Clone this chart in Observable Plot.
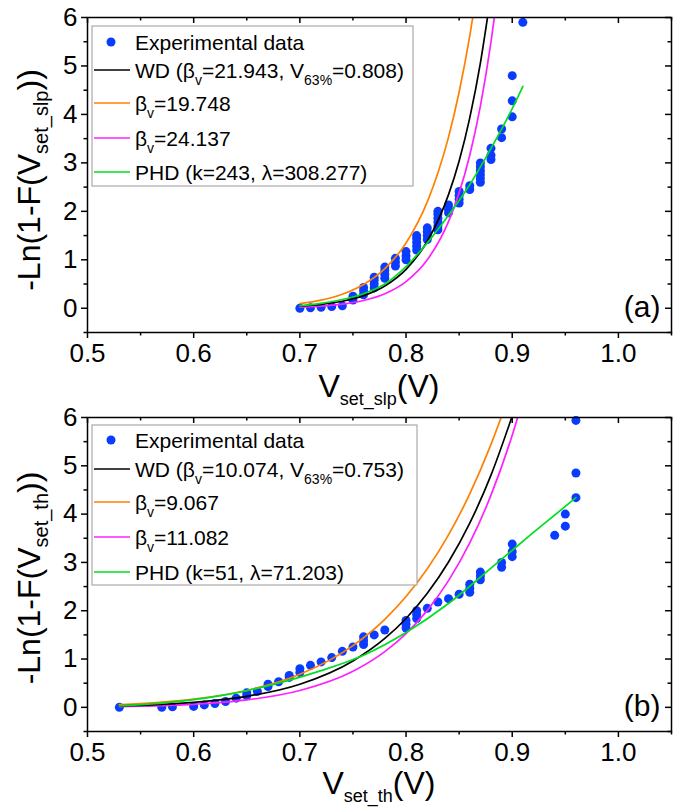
<!DOCTYPE html>
<html><head><meta charset="utf-8">
<script src="https://cdn.jsdelivr.net/npm/d3@7"></script>
<script src="https://cdn.jsdelivr.net/npm/@observablehq/plot@0.6"></script>
<style>
body{margin:0;background:#fff;}
#chart{width:680px;}
#chart svg{display:block;}
</style></head><body><div id="chart"></div>
<script>
const FONT = "'Liberation Sans', Arial, Helvetica, sans-serif";
const BLUE = "#0a3cff";
const COLORS = {wd: "#000000", lo: "#ff8000", hi: "#ff20ff", phd: "#00dd22"};

// axis ticks
const xMajor = [0.5, 0.6, 0.7, 0.8, 0.9, 1.0];
const xMinor = [0.55, 0.65, 0.75, 0.85, 0.95, 1.05];
const yMajor = [0, 1, 2, 3, 4, 5, 6];
const yMinor = [-0.5, 0.5, 1.5, 2.5, 3.5, 4.5, 5.5];

// ---------- panel (a) ----------
const aExpV = [0.70,0.71,0.72,0.73,0.74, 0.75,0.75, 0.76,0.76,0.76, 0.77,0.77,0.77,0.77,
  0.78,0.78,0.78,0.78, 0.79,0.79,0.79, 0.80,0.80,0.80, 0.81,0.81,0.81,0.81,0.81,
  0.82,0.82,0.82,0.82, 0.83,0.83,0.83,0.83,0.83,0.83, 0.84,0.84,0.84, 0.85,0.85,0.85,0.85,
  0.86,0.86, 0.87,0.87,0.87,0.87,0.87,0.87, 0.88,0.88,0.88, 0.89,0.89, 0.90,0.90,0.90, 0.91];
const aExpLn = [0.00,0.01,0.02,0.035,0.05, 0.17,0.25, 0.28,0.36,0.43, 0.42,0.50,0.58,0.64,
  0.62,0.70,0.78,0.85, 0.87,0.95,1.03, 1.00,1.08,1.17, 1.20,1.28,1.36,1.44,1.50,
  1.42,1.50,1.58,1.66, 1.62,1.70,1.78,1.86,1.94,2.00, 1.97,2.05,2.13, 2.17,2.25,2.33,2.41,
  2.45,2.53, 2.60,2.68,2.76,2.84,2.92,3.00, 3.07,3.16,3.30, 3.52,3.70, 3.95,4.28,4.80, 5.90];
const aWdV  = [0.70,0.72,0.74,0.76,0.78,0.80,0.82,0.84,0.85,0.86,0.87,0.878];
const aWdLn = [0.043,0.080,0.145,0.261,0.461,0.804,1.382,2.345,3.04,3.93,5.06,6.19];
const aLoV  = [0.70,0.72,0.74,0.76,0.78,0.80,0.82,0.83,0.84,0.85,0.86,0.864];
const aLoLn = [0.097,0.168,0.289,0.490,0.818,1.348,2.195,2.789,3.532,4.462,5.621,6.16];
const aHiV  = [0.70,0.72,0.74,0.76,0.78,0.80,0.82,0.84,0.85,0.86,0.87,0.88,0.884];
const aHiLn = [0.022,0.043,0.084,0.160,0.299,0.551,1.0,1.789,2.381,3.157,4.173,5.499,6.14];
const aPhdV  = [0.70,0.72,0.74,0.76,0.78,0.80,0.82,0.84,0.86,0.88,0.90,0.91];
const aPhdLn = [0.05,0.10,0.18,0.30,0.50,0.86,1.35,1.92,2.55,3.30,4.12,4.58];
const aLegend = [
  [["Experimental data"]],
  [["WD (β"],["v",1],["=21.943, V"],["63%",1],["=0.808)"]],
  [["β"],["v",1],["=19.748"]],
  [["β"],["v",1],["=24.137"]],
  [["PHD (k=243, λ=308.277)"]]
];
const aYLabel = [["-Ln(1-F(V"],["set_slp",1],["))"]];
const aXLabel = [["V"],["set_slp",1],["(V)"]];

// ---------- panel (b) ----------
const bExpV = [0.53,0.57,0.58,0.60,0.61,0.62,0.63,0.64,0.65,0.65,0.66,0.67,0.67,0.68,0.69,0.69,
  0.70,0.70,0.71,0.72,0.73,0.74,0.75,0.76,0.76,0.76,0.77,0.78,0.80,0.80,0.80,0.81,0.81,0.81,
  0.82,0.83,0.84,0.85,0.86,0.86,0.86,0.87,0.87,0.87,0.89,0.89,0.90,0.90,0.90,0.94,0.95,0.95,
  0.96,0.96,0.96];
const bExpLn = [0.00,0.00,0.01,0.02,0.05,0.08,0.12,0.19,0.24,0.30,0.33,0.43,0.48,0.53,0.62,0.66,
  0.72,0.80,0.87,0.94,1.03,1.16,1.25,1.30,1.38,1.46,1.50,1.60,1.64,1.72,1.80,1.84,1.92,2.00,
  2.05,2.18,2.25,2.34,2.38,2.46,2.55,2.64,2.72,2.80,2.90,3.00,3.12,3.22,3.38,3.56,3.75,4.00,
  4.34,4.85,5.94];
const bWdV  = [0.53,0.55,0.60,0.65,0.70,0.75,0.78,0.80,0.82,0.84,0.86,0.88,0.90];
const bWdLn = [0.029,0.042,0.101,0.227,0.479,0.961,1.426,1.840,2.360,3.009,3.813,4.807,6.03];
const bLoV  = [0.53,0.55,0.60,0.65,0.70,0.75,0.78,0.80,0.82,0.84,0.86,0.88,0.892];
const bLoLn = [0.055,0.077,0.169,0.349,0.684,1.278,1.823,2.294,2.869,3.570,4.419,5.443,6.15];
const bHiV  = [0.53,0.55,0.60,0.65,0.70,0.75,0.78,0.80,0.82,0.84,0.86,0.88,0.90,0.907];
const bHiLn = [0.016,0.024,0.063,0.153,0.348,0.747,1.154,1.527,2.008,2.623,3.404,4.392,5.634,6.14];
const bPhdV  = [0.53,0.56,0.60,0.64,0.68,0.72,0.76,0.80,0.84,0.88,0.92,0.96];
const bPhdLn = [0.03,0.07,0.16,0.30,0.50,0.76,1.08,1.55,2.15,2.88,3.62,4.34];
const bLegend = [
  [["Experimental data"]],
  [["WD (β"],["v",1],["=10.074, V"],["63%",1],["=0.753)"]],
  [["β"],["v",1],["=9.067"]],
  [["β"],["v",1],["=11.082"]],
  [["PHD (k=51, λ=71.203)"]]
];
const bYLabel = [["-Ln(1-F(V"],["set_th",1],["))"]];
const bXLabel = [["V"],["set_th",1],["(V)"]];

const legendKeys = ["exp", "wd", "lo", "hi", "phd"];

function rich(sel, parts, size, subSize, shift) {
  let prevSub = false;
  parts.forEach(([t, sub]) => {
    const ts = sel.append("tspan").text(t);
    if (sub) { ts.attr("font-size", subSize).attr("dy", shift); }
    else { ts.attr("font-size", size); if (prevSub) ts.attr("dy", -shift); }
    prevSub = !!sub;
  });
}

function panel(cfg) {
  const W = 680, H = cfg.height, mt = 17, mb = cfg.mb, ml = 87, mr = 9;
  const pw = W - ml - mr, ph = H - mt - mb;
  const pts = cfg.expV.map((v, i) => ({v, ln: cfg.expLn[i]}));
  const curveMarks = cfg.curves.map(c =>
    Plot.line(c.x.map((v, i) => ({v, ln: c.y[i]})),
      {x: "v", y: "ln", stroke: COLORS[c.key], strokeWidth: 1.7, curve: "monotone-x", clip: true}));
  const svg = Plot.plot({
    width: W, height: H, marginTop: mt, marginBottom: mb, marginLeft: ml, marginRight: mr,
    x: {domain: [0.5, 1.05]},
    y: {domain: [-0.5, 6]},
    style: {fontFamily: FONT, color: "#000", background: "#fff", overflow: "visible"},
    marks: [
      Plot.dot(pts, {x: "v", y: "ln", r: 4.5, fill: BLUE}),
      ...curveMarks,
      Plot.tickX(xMajor, {x: d => d, insetBottom: ph - 6, strokeWidth: 1.5}),
      Plot.tickX(xMinor, {x: d => d, insetBottom: ph - 3.5, strokeWidth: 1.5}),
      Plot.tickY(yMajor, {y: d => d, insetLeft: pw - 6, strokeWidth: 1.5}),
      Plot.tickY(yMinor, {y: d => d, insetLeft: pw - 3.5, strokeWidth: 1.5}),
      Plot.axisX(xMajor, {anchor: "bottom", tickSize: 6, tickPadding: 5, fontSize: 26,
        tickFormat: d3.format(".1f"), label: null, strokeWidth: 1.5}),
      Plot.axisX(xMinor, {anchor: "bottom", tickSize: 3.5, tickFormat: () => "", label: null, strokeWidth: 1.5}),
      Plot.axisY(yMajor, {anchor: "left", tickSize: 6, tickPadding: 4, fontSize: 26,
        tickFormat: d3.format("d"), label: null, strokeWidth: 1.5}),
      Plot.axisY(yMinor, {anchor: "left", tickSize: 3.5, tickFormat: () => "", label: null, strokeWidth: 1.5}),
      Plot.frame({stroke: "#000", strokeWidth: 1.5}),
      Plot.text([cfg.tag], {text: d => d, frameAnchor: "bottom-right", dx: -11, dy: -16, fontSize: 30})
    ]
  });
  const s = d3.select(svg);
  // y label
  const yl = s.append("text")
    .attr("transform", `translate(40,${cfg.yLabelY}) rotate(-90)`)
    .attr("text-anchor", "middle").attr("fill", "#000")
    .style("font-family", FONT);
  rich(yl, cfg.yLabel, 32, 20, 8);
  // x label
  const xl = s.append("text")
    .attr("x", cfg.xLabelX).attr("y", H - mb + cfg.xLabelDy)
    .attr("text-anchor", "middle").attr("fill", "#000")
    .style("font-family", FONT);
  rich(xl, cfg.xLabel, 32, 18, 8);
  // legend
  const lg = s.append("g").style("font-family", FONT).attr("text-anchor", "start");
  const L = cfg.legendBox;
  lg.append("rect").attr("x", L.x).attr("y", L.y).attr("width", L.w).attr("height", L.h)
    .attr("fill", "#fff").attr("stroke", "#aaa").attr("stroke-width", 1.2);
  const rowsY = cfg.rowsY;
  cfg.legend.forEach((parts, i) => {
    const yy = rowsY[i];
    const key = legendKeys[i];
    if (key === "exp") {
      lg.append("circle").attr("cx", L.x + 19).attr("cy", yy).attr("r", 4.5).attr("fill", BLUE);
    } else {
      lg.append("line").attr("x1", L.x + 2).attr("x2", L.x + 38).attr("y1", yy).attr("y2", yy)
        .attr("stroke", COLORS[key]).attr("stroke-width", 1.7);
    }
    const t = lg.append("text").attr("x", L.x + 43).attr("y", yy + 7.5)
      .attr("fill", "#000").attr("text-anchor", "start");
    rich(t, parts, 21, 14, 7);
  });
  return svg;
}

const chart = document.getElementById("chart");
chart.appendChild(panel({
  height: 400, mb: 68, tag: "(a)",
  expV: aExpV, expLn: aExpLn,
  curves: [
    {key: "lo", x: aLoV, y: aLoLn},
    {key: "hi", x: aHiV, y: aHiLn},
    {key: "wd", x: aWdV, y: aWdLn},
    {key: "phd", x: aPhdV, y: aPhdLn}
  ],
  legend: aLegend, legendBox: {x: 92, y: 26, w: 321, h: 160}, rowsY: [42, 70, 103, 138, 172],
  yLabel: aYLabel, yLabelY: 180, xLabel: aXLabel, xLabelX: 379, xLabelDy: 65
}));
chart.appendChild(panel({
  height: 407, mb: 76, tag: "(b)",
  expV: bExpV, expLn: bExpLn,
  curves: [
    {key: "lo", x: bLoV, y: bLoLn},
    {key: "hi", x: bHiV, y: bHiLn},
    {key: "wd", x: bWdV, y: bWdLn},
    {key: "phd", x: bPhdV, y: bPhdLn}
  ],
  legend: bLegend, legendBox: {x: 92, y: 25, w: 325, h: 160}, rowsY: [40, 69, 102, 137, 172],
  yLabel: bYLabel, yLabelY: 178, xLabel: bXLabel, xLabelX: 379, xLabelDy: 63
}));
</script></body></html>
